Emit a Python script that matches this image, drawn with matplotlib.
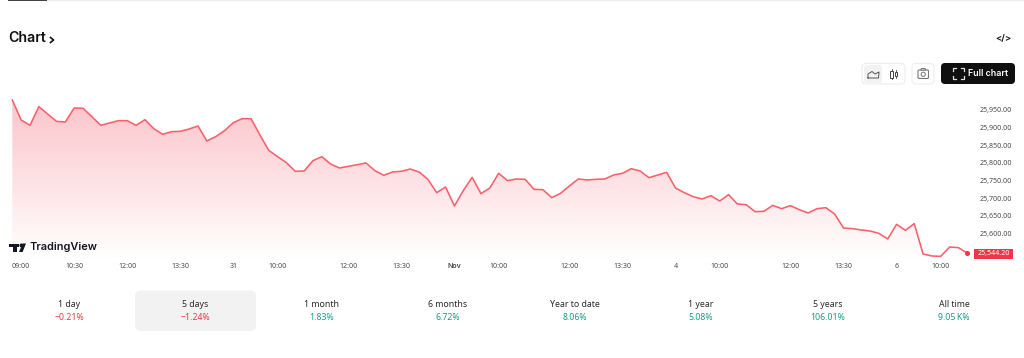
import numpy as np
import matplotlib
matplotlib.use("Agg")
import matplotlib.pyplot as plt
from matplotlib.patches import FancyBboxPatch, Rectangle, Polygon, Circle
from matplotlib.colors import LinearSegmentedColormap

prices = [25977.5,25920.9,25905.8,25958.6,25937.8,25917.0,25915.2,25954.8,25953.9,25930.3,
          25905.8,25912.4,25919.0,25919.0,25905.8,25921.8,25896.3,25880.3,25887.8,25888.8,
          25895.4,25903.9,25861.4,25873.7,25890.7,25913.3,25924.6,25924.6,25878.4,25835.0,
          25817.1,25800.1,25775.6,25776.5,25805.8,25817.1,25796.3,25785.0,
          25789.7,25794.4,25799.2,25777.5,25764.3,25773.7,25775.6,25782.2,25773.7,25752.9,
          25715.2,25731.2,25677.5,25720.9,25758.6,25712.4,25728.4,25769.9,25749.2,25753.9,
          25752.9,25724.6,25723.7,25701.1,25713.3,25734.1,25753.9,25751.1,25752.9,25753.9,
          25765.2,25769.9,25783.1,25776.5,25757.6,25765.2,25772.7,25728.4,
          25715.2,25703.9,25697.3,25706.7,25691.6,25709.6,25683.1,25681.2,25661.4,25662.4,
          25679.3,25669.9,25678.4,25667.0,25657.7,25669.9,25672.7,25654.8,25615.2,25613.3,
          25609.6,25606.7,25600.1,25584.1,25625.6,25608.6,25627.5,25541.7,25536.0,25535.0,
          25561.4,25559.6,25544.2]
x_tick_idx = [1,7,13,19,25,30,38,44,50,55,63,69,75,80,88,94,100,105]
x_tick_labels = ["09:00","10:30","12:00","13:30","31","10:00","12:00","13:30","Nov","10:00",
                 "12:00","13:30","4","10:00","12:00","13:30","6","10:00"]
y_ticks = [25550,25600,25650,25700,25750,25800,25850,25900,25950]
last_label = "25,544.20"
periods = ["1 day","5 days","1 month","6 months","Year to date","1 year","5 years","All time"]
changes = ["\u22120.21%","\u22121.24%","1.83%","6.72%","8.06%","5.08%","106.01%","9.05\u2009K%"]
period_x = [69,195.5,322,448,575,701,828,954]

RED = "#f23645"; LINE = "#f9606c"; GREEN = "#1a9a86"
W, H = 1024, 358
plt.rcParams["font.family"] = ["Noto Sans", "DejaVu Sans"]
fig = plt.figure(figsize=(W/100, H/100), dpi=100, facecolor="white")

# chart axes, positioned in pixels
L, R, T, B = 12.3, 967.3, 90.0, 262.0
ax = fig.add_axes([L/W, 1-B/H, (R-L)/W, (B-T)/H], facecolor="none")
val = lambda y: 25950-(y-109.7)*2.83
ax.set_xlim(0, len(prices)-1)
ax.set_ylim(val(B), val(T))
xs = np.arange(len(prices))
ys = np.array(prices)
cmap = LinearSegmentedColormap.from_list("g", ["#fcc4c9", "#ffffff"])
im = ax.imshow(np.linspace(0,1,256)[:,None], extent=[0,len(prices)-1,val(258),val(100)],
               aspect="auto", cmap=cmap, zorder=1, origin="upper")
ax.set_xlim(0, len(prices)-1)
ax.set_ylim(val(B), val(T))
clip = Polygon(np.column_stack([np.r_[xs, xs[-1], 0], np.r_[ys, val(258), val(258)]]),
               closed=True, transform=ax.transData, fc="none", ec="none")
ax.add_patch(clip)
im.set_clip_path(clip)
ax.plot(xs, ys, color=LINE, lw=1.15, zorder=3, solid_joinstyle="round", clip_on=False)
ax.plot(xs[-1], ys[-1], "o", color=RED, ms=2.6, zorder=4, clip_on=False)
for s in ax.spines.values():
    s.set_visible(False)
ax.set_xticks(x_tick_idx, x_tick_labels)
ax.yaxis.tick_right()
ax.set_yticks(y_ticks, [f"{v:,.2f}" for v in y_ticks])
ax.tick_params(axis="x", length=0, pad=1, labelsize=5.1, labelcolor="#4a4a4a")
ax.tick_params(axis="y", length=0, pad=9, labelsize=5.1, labelcolor="#4a4a4a")
for lab in ax.get_xticklabels():
    if lab.get_text() == "Nov":
        lab.set_family("Inter")
        lab.set_fontweight("semibold")

# overlay in pixel coordinates for page furniture
ov = fig.add_axes([0,0,1,1], facecolor="none", zorder=5)
ov.set_xlim(0,W); ov.set_ylim(H,0); ov.axis("off")
def rbox(x0,y0,x1,y1,r,fc,ec="none",lw=0.8,z=1):
    ov.add_patch(FancyBboxPatch((x0+r,y0+r),x1-x0-2*r,y1-y0-2*r,boxstyle=f"round,pad={r},rounding_size={r}",
                                fc=fc,ec=ec,lw=lw,zorder=z,mutation_aspect=1))

ov.add_patch(Rectangle((47,0),W-47,1,fc="#eeeeee",ec="none"))
ov.add_patch(Rectangle((8,0),39,1,fc="#444444",ec="none"))
ov.text(8,38,"Chart",fontsize=10.2,family="Inter",fontweight="semibold",color="#0f0f0f",va="center",ha="left")
ov.plot([50.5,53.5,50.5],[37.5,40,42.5],color="#0f0f0f",lw=1.2)
ov.text(1003.5,38,"</>",fontsize=6.8,family="Inter",fontweight="semibold",color="#111111",va="center",ha="center")

# toolbar
rbox(862,63.5,905,84,4,"white","#eeeeee")
rbox(864,65,882,83,3,"#f2f2f2")
ov.plot([868,868,872,875,879,878.5,868],[78,74,71.5,74,72,78,78],color="#555555",lw=0.7)
for cx,y0,y1,b0,b1 in [(891.5,69,79,70.5,77.5),(896,70,78,72,76)]:
    ov.plot([cx,cx],[y0,y1],color="#444444",lw=0.6)
    ov.add_patch(Rectangle((cx-1.2,b0),2.4,b1-b0,fc="white",ec="#444444",lw=0.7,zorder=3))
rbox(912,63.5,934,84,4,"white","#eeeeee")
rbox(918,70,928.5,78.5,1.2,"white","#777777",lw=0.8,z=2)
ov.add_patch(Polygon([(920.5,70),(921.5,68.5),(925,68.5),(926,70)],fc="white",ec="#777777",lw=0.7,zorder=2))
ov.add_patch(Circle((923.2,74.3),2.1,fc="white",ec="#777777",lw=0.7,zorder=3))
rbox(941,63,1015,84,4,"#0f0f0f")
for sx,sy in [(-1,-1),(1,-1),(-1,1),(1,1)]:
    cx,cy=958+sx*5.5,73.5+sy*5.5
    ov.plot([cx-sx*3,cx,cx],[cy,cy,cy-sy*3],color="#dddddd",lw=0.9)
ov.text(968,73.5,"Full chart",fontsize=6.4,family="Inter",fontweight="semibold",color="white",va="center",ha="left")

# logo
ov.add_patch(Polygon([(9,243.5),(19,243.5),(19,247.3),(16.8,247.3),(16.8,252),(13,252),(13,247.3),(9,247.3)],fc="#131722",ec="none"))
ov.add_patch(Circle((21.4,245.4),1.9,fc="#131722",ec="none"))
ov.add_patch(Polygon([(19,252),(22.6,243.5),(26,243.5),(22.6,252)],fc="#131722",ec="none"))
ov.text(29.5,247.3,"TradingView",fontsize=7.9,family="Inter",fontweight="semibold",color="#131722",va="center",ha="left")

# last price label
ov.add_patch(Rectangle((974,249),38.5,9.5,fc=RED,ec="none",zorder=4))
ov.text(993.5,253.6,last_label,fontsize=5.1,color="white",va="center",ha="center",zorder=5)

# period selector
rbox(135,290.5,256,331,6,"#f2f2f2")
for px,p,c in zip(period_x,periods,changes):
    ov.text(px,304.3,p,fontsize=6.3,color="#2a2a2a",va="center",ha="center")
    ov.text(px,318,c,fontsize=6.3,color=RED if c.startswith("\u2212") else GREEN,va="center",ha="center")

fig.savefig("out.png",dpi=100,facecolor="white")
